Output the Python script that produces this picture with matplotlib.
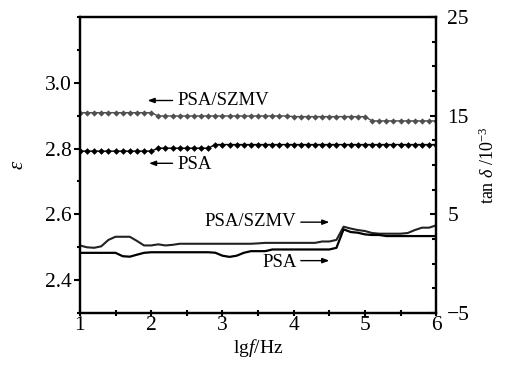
import numpy as np
import matplotlib
matplotlib.use("Agg")
import matplotlib.pyplot as plt
from matplotlib.ticker import MultipleLocator, FixedLocator

plt.rcParams['font.family'] = ['Liberation Serif', 'DejaVu Serif']
plt.rcParams['mathtext.fontset'] = 'custom'
plt.rcParams['mathtext.rm'] = 'Liberation Serif'
plt.rcParams['mathtext.it'] = 'Liberation Serif:italic'

# lg f grid, 0.1 step
lgf = np.round(np.arange(1.0, 6.01, 0.1), 1)

# permittivity (left axis)
eps_szmv = [2.909] * 11 + [2.899] * 19 + [2.897] * 11 + [2.884] * 10
eps_psa = [2.792] * 11 + [2.801] * 8 + [2.812] * 32

# tan delta / 1e-3 (right axis)
tan_szmv = [1.84, 1.65, 1.6, 1.75, 2.4, 2.72, 2.72, 2.72, 2.3, 1.84,
            1.84, 1.95, 1.84, 1.9, 2.01, 2.01, 2.01, 2.01, 2.01, 2.01,
            2.01, 2.01, 2.01, 2.01, 2.01, 2.05, 2.1, 2.1, 2.1, 2.1,
            2.1, 2.1, 2.1, 2.1, 2.24, 2.24, 2.4, 3.74, 3.55, 3.4,
            3.3, 3.1, 3.03, 3.03, 3.03, 3.03, 3.1, 3.4, 3.64, 3.64, 3.88]
tan_psa = [1.09, 1.09, 1.09, 1.09, 1.09, 1.09, 0.75, 0.7, 0.9, 1.09,
           1.15, 1.15, 1.15, 1.15, 1.15, 1.15, 1.15, 1.15, 1.15, 1.1,
           0.8, 0.68, 0.8, 1.09, 1.26, 1.26, 1.26, 1.43, 1.43, 1.43,
           1.43, 1.43, 1.43, 1.43, 1.43, 1.43, 1.6, 3.47, 3.2, 3.13,
           2.96, 2.9, 2.9, 2.79, 2.79, 2.79, 2.79, 2.79, 2.79, 2.79, 2.79]

fig = plt.figure(figsize=(5.12, 3.69), dpi=100)
ax = fig.add_axes([0.156, 0.152, 0.696, 0.802])
ax2 = ax.twinx()

ax.plot(lgf, eps_szmv, color='#505050', lw=1.0, marker='D', ms=3.2, mew=0)
ax.plot(lgf, eps_psa, color='black', lw=1.0, marker='D', ms=3.4, mew=0)
ax2.plot(lgf, tan_szmv, color='#222222', lw=1.5)
ax2.plot(lgf, tan_psa, color='black', lw=1.6)

ax.set_xlim(1, 6)
ax.set_ylim(2.3, 3.2)
ax2.set_ylim(-5, 25)

ax.xaxis.set_major_locator(MultipleLocator(1))
ax.xaxis.set_minor_locator(MultipleLocator(0.5))
ax.yaxis.set_major_locator(FixedLocator([2.4, 2.6, 2.8, 3.0]))
ax.yaxis.set_minor_locator(MultipleLocator(0.1))
ax.set_yticklabels(['2.4', '2.6', '2.8', '3.0'])
ax2.yaxis.set_major_locator(FixedLocator([-5, 5, 15, 25]))
ax2.yaxis.set_minor_locator(MultipleLocator(2.5))
ax2.set_yticklabels(['\u22125', '5', '15', '25'])

for a in (ax, ax2):
    for s in a.spines.values():
        s.set_linewidth(1.6)
ax.tick_params(axis='y', which='major', direction='out', length=4, width=1.5, labelsize=15.5, pad=2)
ax.tick_params(axis='y', which='minor', direction='out', length=2.5, width=1.5)
ax.tick_params(axis='x', which='both', direction='inout', length=4, width=1.5, labelsize=15.5, pad=0)
ax2.tick_params(axis='y', which='both', direction='in', length=4, width=1.5, labelsize=15.5, pad=8)
ax2.tick_params(axis='y', which='minor', length=3)

ax.set_xlabel('lg$f$/Hz', fontsize=14, labelpad=2)
ax.set_ylabel('$\\varepsilon$', fontsize=15, labelpad=12)
ax2.set_ylabel('tan $\\delta$ /10$^{-3}$', fontsize=13, labelpad=6)

arrow = dict(arrowstyle='-|>,head_length=0.4,head_width=0.15', color='black', lw=1.0,
             shrinkA=0, shrinkB=0)
ax.annotate('', xy=(1.95, 2.946), xytext=(2.3, 2.946), arrowprops=arrow)
ax.text(2.37, 2.946, 'PSA/SZMV', fontsize=13.5, va='center', ha='left')
ax.annotate('', xy=(1.97, 2.755), xytext=(2.3, 2.755), arrowprops=arrow)
ax.text(2.37, 2.752, 'PSA', fontsize=13.5, va='center', ha='left')

ax2.annotate('', xy=(4.5, 4.2), xytext=(4.1, 4.2), arrowprops=arrow)
ax2.text(4.04, 4.3, 'PSA/SZMV', fontsize=13.5, va='center', ha='right')
ax2.annotate('', xy=(4.5, 0.3), xytext=(4.1, 0.3), arrowprops=arrow)
ax2.text(4.04, 0.1, 'PSA', fontsize=13.5, va='center', ha='right')

fig.savefig('out.png', dpi=100)
